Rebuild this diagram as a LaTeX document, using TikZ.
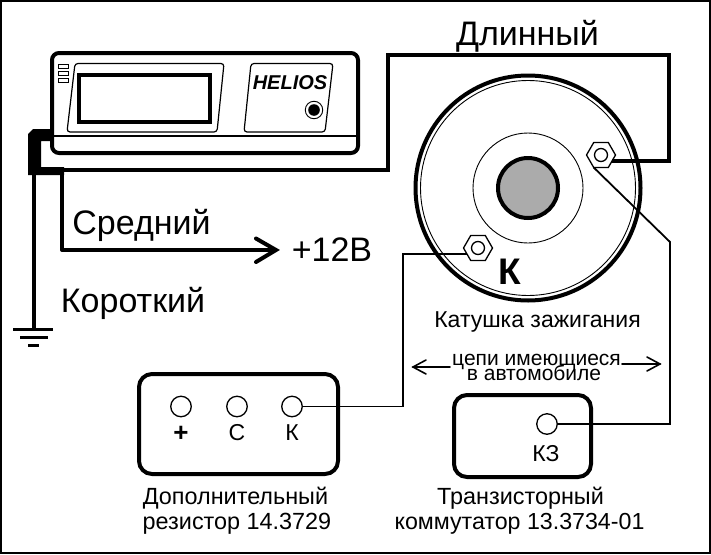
\documentclass[tikz,border=0pt]{standalone}
\usepackage{fontspec}
\setmainfont{Liberation Sans}
\usetikzlibrary{shapes.geometric,arrows.meta}
\definecolor{coregray}{HTML}{ABABAB}
\tikzset{
  txt/.style={font=\fontsize{#1}{#1}\selectfont, anchor=base, inner sep=0pt, outer sep=0pt, text=black},
  heavy/.style={line width=4pt, line join=round},
  wirethick/.style={line width=3.6pt, line join=miter},
  wirethin/.style={line width=1.8pt, line join=miter},
  boxed/.style={line width=4pt, rounded corners=13pt, fill=white, draw=black},
  bezel/.style={line width=1.2pt, rounded corners=3pt, fill=white, draw=black},
  term/.style={circle, draw=black, line width=1.3pt, fill=white, minimum size=20.5pt, inner sep=0pt, outer sep=0pt},
  nut/.style={regular polygon, regular polygon sides=6, draw=black, line width=1.3pt, fill=white, minimum size=29pt, inner sep=0pt, outer sep=0pt},
  nuthole/.style={circle, draw=black, line width=1.3pt, fill=white, minimum size=13pt, inner sep=0pt, outer sep=0pt},
  led/.style={draw=black, line width=.9pt, fill=white},
  openhead/.style={line cap=round, line join=miter},
}
\begin{document}
\begin{tikzpicture}[x=1pt,y=-1pt]
\useasboundingbox (0,0) rectangle (711,554);
\draw[line width=2pt,fill=white] (1,1) rectangle (710,553);

% coil
\coordinate (coilc) at (528,188);
\draw[line width=4pt] (coilc) circle[radius=112.5pt];
\draw[line width=.9pt] (coilc) circle[radius=107.5pt];
\draw[line width=.9pt] (coilc) circle[radius=55pt];
\draw[line width=4pt,fill=coregray] (coilc) circle[radius=30pt];

% named junctions
\coordinate (joint) at (60,170);
\coordinate (groundtop) at (34,329);
\coordinate (sourceend) at (276,250);
\coordinate (medcorner) at (62,250);
\coordinate (longa) at (388,55);
\coordinate (longb) at (669,55);
\coordinate (diagend) at (670,242);
\coordinate (resx) at (403,300);

% cable stub
\fill[black] (50,129) -- (33,129) -- (28,134) -- (28,175) -- (64,175) -- (64,167) -- (41,167) -- (41,141) -- (50,141) -- cycle;

% device
\draw[boxed,rounded corners=7pt] (52,53) rectangle (358,153);
\draw[line width=1.6pt] (51,136) -- (359,136);
\draw[bezel] (75,63.5) -- (224,63.5) -- (217,132) -- (67,132) -- cycle;
\draw[line width=4pt] (79,75) rectangle (210,122);
\draw[bezel] (251,63.5) -- (333,63.5) -- (325,132) -- (244,132) -- cycle;
\draw[led] (58.5,64.5) rectangle (68.5,68);
\draw[led] (58.5,71.5) rectangle (68.5,75);
\draw[led] (58.5,78.5) rectangle (68.5,82);
\node[txt=20,font=\fontsize{20}{20}\selectfont\bfseries\itshape] (helios) at (290,89) {HELIOS};
\node[circle,draw=black,line width=.9pt,fill=white,minimum size=17.5pt,inner sep=0pt] (jack) at (314,110) {};
\fill[black] (jack.center) circle[radius=5.8pt];

% nuts
\node[nut] (nuta) at (601,155) {};
\node[nuthole] at (nuta.center) {};
\node[nut] (nutb) at (478,248) {};
\node[nuthole] at (nutb.center) {};

% boxes
\node[draw=black,line width=4pt,rounded corners=13pt,fill=white,minimum width=199pt,minimum height=100pt,inner sep=0pt,outer sep=0pt] (resbox) at (238.5,424) {};
\node[draw=black,line width=4pt,rounded corners=13pt,fill=white,minimum width=137pt,minimum height=82pt,inner sep=0pt,outer sep=0pt] (combox) at (522.5,436) {};
\node[term] (tplus) at (181,406.5) {};
\node[term] (tc) at (237,406.5) {};
\node[term] (tk) at (292,406.5) {};
\node[term] (tkz) at (547,424) {};

% wires
\draw[wirethick] (joint) -| (longa) -- (longb) |- (nuta.-30);
\draw[heavy] (34,173) -- (groundtop);
\draw[heavy] (62,172) -- (medcorner) -- (sourceend);
\draw[heavy,openhead] (256,238.5) -- (sourceend) -- (256,262);
\draw[line width=3pt] (13,329) -- (53,329);
\draw[line width=3pt] (20,337) -- (48,337);
\draw[line width=3pt] (28,345) -- (39,345);
\draw[wirethin] (nuta.-120) -- (diagend) |- (tkz.east);
\draw[wirethin] (nutb.-150) -| (resx) |- (tk.east);

% labels
\node[txt=34] (long) at (527.5,45) {Длинный};
\node[txt=34] (mid) at (141.5,234) {Средний};
\node[txt=34] (short) at (133,312) {Короткий};
\node[txt=34] (vplus) at (332,261) {+12В};
\node[txt=37,font=\fontsize{37}{37}\selectfont\bfseries] (klarge) at (509.5,284) {К};
\node[txt=23] (coillab) at (537.5,327.5) {Катушка зажигания};
\node[txt=21] (circa) at (536.5,365) {цепи имеющиеся};
\node[txt=21] (circb) at (534,380) {в автомобиле};
\node[font=\fontsize{26}{26}\selectfont\bfseries,anchor=base,inner sep=0pt] (lplus) at (181,441) {+};
\node[txt=23] (lc) at (237,440) {С};
\node[txt=23] (lk) at (292,440) {К};
\node[txt=23] (lkz) at (546,461) {КЗ};
\node[txt=23.4] (ra) at (235.5,504) {Дополнительный};
\node[txt=23.4] (rb) at (237,529.5) {резистор 14.3729};
\node[txt=23.4] (ca) at (520.5,504) {Транзисторный};
\node[txt=23.2] (cb) at (519.5,529.5) {коммутатор 13.3734-01};

% span arrows
\coordinate (spanl) at (413,367);
\coordinate (spanr) at (660,364);
\draw[line width=1.6pt,openhead] (450,367) -- (spanl);
\draw[line width=1.6pt,openhead] (426,360) -- (spanl) -- (426,374);
\draw[line width=1.6pt,openhead] (622,364) -- (spanr);
\draw[line width=1.6pt,openhead] (647,357) -- (spanr) -- (647,371);
\end{tikzpicture}
\end{document}
